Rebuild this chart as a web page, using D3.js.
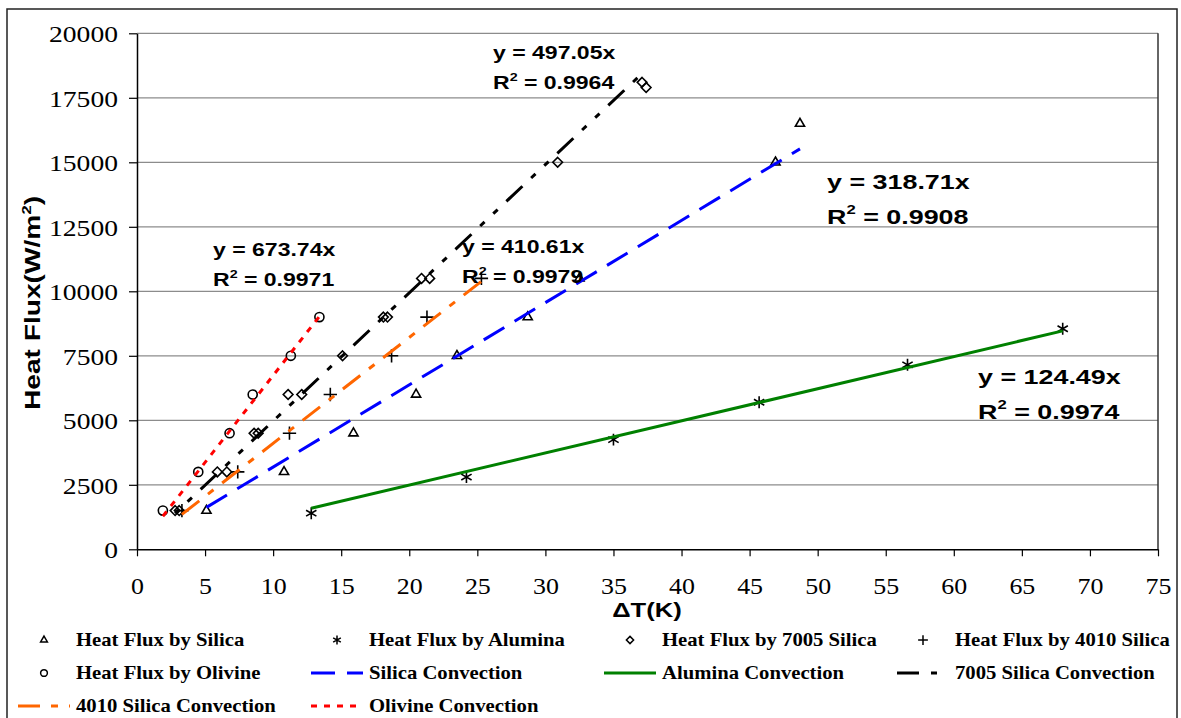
<!DOCTYPE html>
<html>
<head>
<meta charset="utf-8">
<script src="https://cdn.jsdelivr.net/npm/d3@7"></script>
<style>
  body { margin: 0; background: #fff; }
  svg { display: block; }
</style>
</head>
<body>
<div id="chart"></div>
<script>
// ---- data ----
const silicaX   = [5.1, 10.8, 15.9, 20.5, 23.5, 28.7, 32.5, 46.9, 48.7];
const silicaY   = [1500, 3000, 4500, 6000, 7500, 9000, 10500, 15000, 16500];
const aluminaX  = [12.8, 24.2, 35.0, 45.7, 56.6, 68.0];
const aluminaY  = [1400, 2800, 4250, 5700, 7150, 8550];
const s7005X    = [2.8, 3.1, 5.9, 6.6, 8.6, 8.9, 11.1, 12.1, 15.1, 18.1, 18.4, 20.9, 21.5, 30.9, 37.1, 37.4];
const s7005Y    = [1500, 1500, 3000, 3000, 4500, 4500, 6000, 6000, 7500, 9000, 9000, 10500, 10500, 15000, 18100, 17900];
const s4010X    = [3.3, 7.4, 11.2, 14.2, 18.7, 21.3, 25.3];
const s4010Y    = [1500, 3000, 4500, 6000, 7500, 9000, 10500];
const olivineX  = [1.9, 4.5, 6.8, 8.5, 11.3, 13.4];
const olivineY  = [1500, 3000, 4500, 6000, 7500, 9000];

// trendlines y = k x
const fitNames  = ["Silica Convection", "Alumina Convection", "7005 Silica Convection", "4010 Silica Convection", "Olivine Convection"];
const fitSlopes = [318.71, 124.49, 497.05, 410.61, 673.74];
const fitR2     = ["0.9908", "0.9974", "0.9964", "0.9979", "0.9971"];

const xTicks = d3.range(0, 76, 5);
const yTicks = d3.range(0, 20001, 2500);

// ---- layout ----
const W = 1181, H = 718;
const x = d3.scaleLinear().domain([0, 75]).range([137, 1158]);
const y = d3.scaleLinear().domain([0, 20000]).range([549.3, 33.3]);
const serif = "'Liberation Serif', 'Times New Roman', serif";
const sans = "'Liberation Sans', Arial, sans-serif";

const svg = d3.select("#chart").append("svg")
    .attr("width", W).attr("height", H);

// outer frame
svg.append("rect")
    .attr("x", 7).attr("y", 9).attr("width", 1170).attr("height", 720)
    .attr("fill", "none").attr("stroke", "#222").attr("stroke-width", 1.5);

// gridlines
svg.append("g").selectAll("line")
    .data(yTicks.slice(1))
    .enter().append("line")
    .attr("x1", x(0)).attr("x2", x(75))
    .attr("y1", d => y(d)).attr("y2", d => y(d))
    .attr("stroke", "#8c8c8c").attr("stroke-width", 1.2);

// right border of plot area
svg.append("line")
    .attr("x1", x(75)).attr("x2", x(75))
    .attr("y1", y(20000)).attr("y2", y(0))
    .attr("stroke", "#333").attr("stroke-width", 1.5);

// y axis
const ySx = 1.2;
let gy = svg.append("g")
    .attr("transform", `translate(${x(0)},0)`)
    .call(d3.axisLeft(y).tickValues(yTicks).tickFormat(d3.format("d")).tickSize(8).tickSizeOuter(0))
    .attr("font-family", serif);
gy.select(".domain").attr("stroke", "#000").attr("stroke-width", 1.5);
gy.selectAll(".tick line").attr("stroke", "#000").attr("stroke-width", 1.2);
gy.selectAll(".tick text")
    .style("font-family", serif).style("font-size", "23px").attr("fill", "#000")
    .attr("x", -19 / ySx).attr("dy", 8.5)
    .attr("transform", `scale(${ySx},1)`);

// x axis
const xSx = 1.08;
let gx = svg.append("g")
    .attr("transform", `translate(0,${y(0)})`)
    .call(d3.axisBottom(x).tickValues(xTicks).tickSize(7).tickSizeOuter(0))
    .attr("font-family", serif);
gx.select(".domain").attr("stroke", "#000").attr("stroke-width", 1.5);
gx.selectAll(".tick line").attr("stroke", "#000").attr("stroke-width", 1.2);
gx.selectAll(".tick text")
    .style("font-family", serif).style("font-size", "24px").attr("fill", "#000")
    .attr("y", 45).attr("dy", 0)
    .attr("transform", `scale(${xSx},1)`);

// axis titles
const tSx = 1.28;
let yt = svg.append("text")
    .attr("transform", `translate(40,303) rotate(-90) scale(${tSx},1)`)
    .attr("text-anchor", "middle")
    .attr("font-family", sans).attr("font-weight", "bold").attr("font-size", 22);
yt.append("tspan").text("Heat Flux(W/m");
yt.append("tspan").attr("font-size", 13).attr("dy", -9).text("2");
yt.append("tspan").attr("dy", 9).text(")");

svg.append("text")
    .attr("transform", `translate(647,617) scale(${tSx},1)`)
    .attr("text-anchor", "middle")
    .attr("font-family", sans).attr("font-weight", "bold").attr("font-size", 20)
    .text("ΔT(K)");

// series definitions (style)
const markerSeries = [
  { name: "Heat Flux by Silica",      xs: silicaX,  ys: silicaY,  sym: d3.symbolTriangle2, size: 60 },
  { name: "Heat Flux by Alumina",     xs: aluminaX, ys: aluminaY, sym: d3.symbolAsterisk,  size: 100 },
  { name: "Heat Flux by 7005 Silica", xs: s7005X,   ys: s7005Y,   sym: d3.symbolDiamond2,  size: 60 },
  { name: "Heat Flux by 4010 Silica", xs: s4010X,   ys: s4010Y,   sym: d3.symbolPlus,      size: 60 },
  { name: "Heat Flux by Olivine",     xs: olivineX, ys: olivineY, sym: d3.symbolCircle,    size: 65 }
];
// reverse: draw dash pattern from the top end; offset: phase of the pattern
const fitStyle = [
  { color: "#0000ff", dash: "24,12",           src: 0, reverse: false, offset: 0 },
  { color: "#008000", dash: null,              src: 1, reverse: false, offset: 0 },
  { color: "#000000", dash: "22,12,6,12,6,12", src: 2, reverse: true,  offset: 40 },
  { color: "#ff6600", dash: "22,11,7,11",      src: 3, reverse: false, offset: 0 },
  { color: "#ff0000", dash: "6,7",             src: 4, reverse: false, offset: 0 }
];

// markers
markerSeries.forEach(s => {
  svg.append("g").selectAll("path")
      .data(s.xs.map((v, i) => [v, s.ys[i]]))
      .enter().append("path")
      .attr("d", d3.symbol().type(s.sym).size(s.size))
      .attr("transform", d => `translate(${x(d[0])},${y(d[1])})`)
      .attr("fill", "none").attr("stroke", "#000").attr("stroke-width", 1.6);
});

// trendlines
const line = d3.line().x(d => x(d[0])).y(d => y(d[1]));
fitSlopes.forEach((k, i) => {
  const st = fitStyle[i];
  const s = markerSeries[st.src];
  const [x0, x1] = d3.extent(s.xs);
  let pts = [[x0, k * x0], [x1, k * x1]];
  if (st.reverse) pts.reverse();
  svg.append("path")
      .attr("d", line(pts))
      .attr("fill", "none")
      .attr("stroke", st.color)
      .attr("stroke-width", 3)
      .attr("stroke-dasharray", st.dash)
      .attr("stroke-dashoffset", st.offset);
});

// equation labels (pixel placement + font size)
const eqPos = [
  { x: 827, y: 189, fs: 21 },
  { x: 978, y: 384, fs: 21 },
  { x: 493, y: 59,  fs: 18 },
  { x: 462, y: 253, fs: 18 },
  { x: 213, y: 256, fs: 18 }
];
fitSlopes.forEach((k, i) => {
  const p = eqPos[i];
  const g = svg.append("g")
      .attr("transform", `translate(${p.x},${p.y}) scale(${tSx},1)`)
      .attr("font-family", sans).attr("font-weight", "bold")
      .attr("font-size", p.fs).attr("fill", "#000");
  g.append("text").text(`y = ${k.toFixed(2)}x`);
  const r = g.append("text").attr("y", p.fs * 1.65);
  r.append("tspan").text("R");
  r.append("tspan").attr("font-size", p.fs * 0.62).attr("dy", -p.fs * 0.45).text("2");
  r.append("tspan").attr("dy", p.fs * 0.45).text(` = ${fitR2[i]}`);
});

// legend
const legendItems = [
  { kind: "m", i: 0 }, { kind: "m", i: 1 }, { kind: "m", i: 2 }, { kind: "m", i: 3 },
  { kind: "m", i: 4 }, { kind: "l", i: 0 }, { kind: "l", i: 1 }, { kind: "l", i: 2 },
  { kind: "l", i: 3 }, { kind: "l", i: 4 }
];
const colText = [76, 369, 662, 955];
const rowBase = [646, 679, 712];
const lSx = 1.15;
legendItems.forEach((it, n) => {
  const tx = colText[n % 4], by = rowBase[Math.floor(n / 4)];
  const cy = by - 6;
  if (it.kind === "m") {
    const s = markerSeries[it.i];
    svg.append("path")
        .attr("d", d3.symbol().type(s.sym).size(s.size * 0.55))
        .attr("transform", `translate(${tx - 32},${cy})`)
        .attr("fill", "none").attr("stroke", "#000").attr("stroke-width", 1.5);
  } else {
    svg.append("line")
        .attr("x1", tx - 58).attr("x2", tx - 6)
        .attr("y1", cy).attr("y2", cy)
        .attr("stroke", fitStyle[it.i].color).attr("stroke-width", 3)
        .attr("stroke-dasharray", fitStyle[it.i].dash);
  }
  svg.append("text")
      .attr("transform", `translate(${tx},${by}) scale(${lSx},1)`)
      .attr("font-family", serif).attr("font-weight", "bold").attr("font-size", 18)
      .text(it.kind === "m" ? markerSeries[it.i].name : fitNames[it.i]);
});
</script>
</body>
</html>
